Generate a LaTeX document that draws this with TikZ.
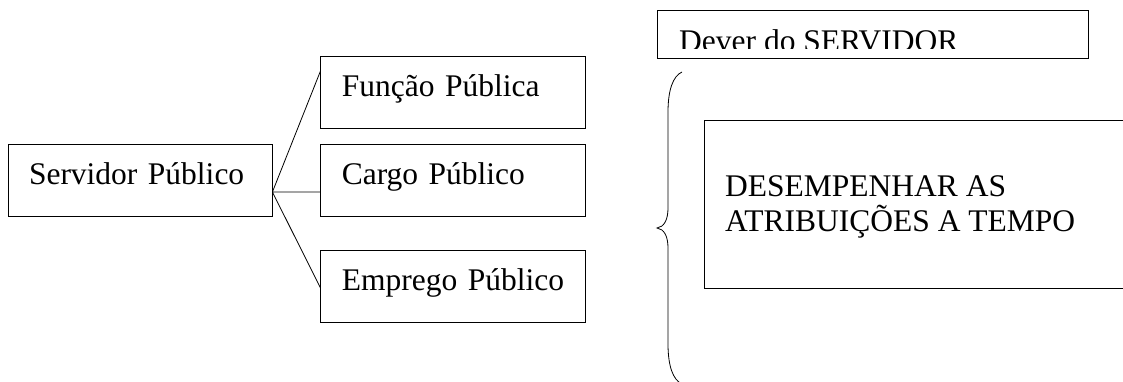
\documentclass[tikz,border=0pt]{standalone}
\usepackage{fontspec}
\setmainfont{Liberation Serif}
\usepackage{tikz}
\usetikzlibrary{positioning}

\begin{document}
\begin{tikzpicture}
      [x=1pt,y=-1pt,font=\fontsize{31.5}{35}\selectfont,
       quadro/.style={draw,line width=0.8pt,inner sep=0pt},
       caixa/.style={quadro,inner xsep=21pt,text width=#1,align=left,
         minimum height=72pt,text height=22pt,text depth=14pt},
       texto/.style={anchor=base west,inner sep=0pt},
       fio/.style={line width=0.8pt}]
    \useasboundingbox (0,0) rectangle (1123,381);
    \clip (0,0) rectangle (1123,381);

    \node[caixa=222pt] (servidor) at (140,180) {Servidor Público};
    \node[caixa=223pt] (cargo)   [right=48pt of servidor] {Cargo Público};
    \node[caixa=223pt] (funcao)  [above=15pt of cargo]    {Função Pública};
    \node[caixa=223pt] (emprego) [below=34pt of cargo]    {Emprego Público};

    \coordinate (fork) at ([yshift=-12pt]servidor.east);
    \draw[fio] (fork) -- ([yshift=21pt]funcao.west)
          (fork) -- (fork -| cargo.west)
          (fork) -- ([yshift=-1pt]emprego.west);

    \node[quadro,minimum width=431pt,minimum height=48pt] (dever) at (873,34) {};
    \begin{scope}
      \clip (dever.north west) rectangle ([yshift=10pt]dever.south east);
      \node[texto] (devertexto) at (679,51) {Dever do SERVIDOR};
    \end{scope}

    \draw[fio] (682,72) .. controls (673,76) and (668,90) .. (668,112)
          -- (668,208) .. controls (668,220) and (664,227) .. (657,228)
          .. controls (664,229) and (668,236) .. (668,248)
          -- (668,344) .. controls (668,366) and (673,380) .. (682,384);

    \node[quadro,minimum width=431pt,minimum height=168pt] (tarefa) at (919.5,204) {};
    \node[texto] (linha1) at (725,196.7) {DESEMPENHAR AS};
    \node[texto] (linha2) at (725,231.7) {ATRIBUIÇÕES A TEMPO};
\end{tikzpicture}
\end{document}
